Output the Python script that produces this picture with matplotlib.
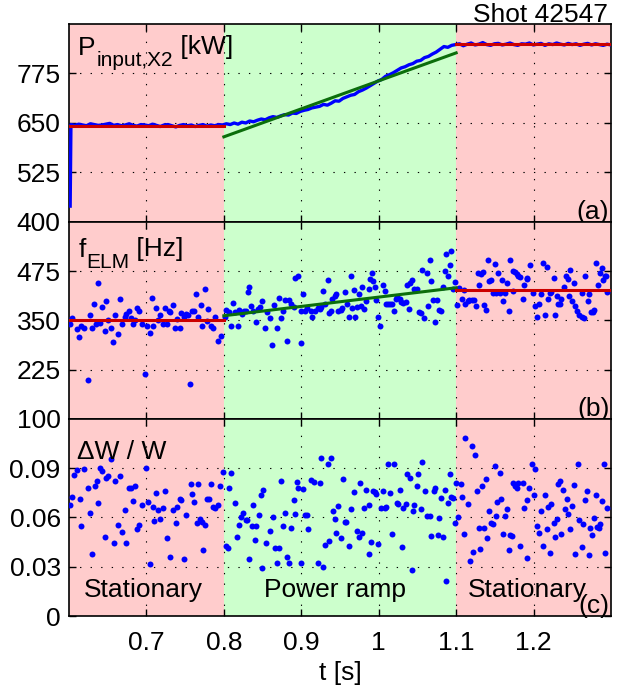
import numpy as np
import matplotlib
matplotlib.use('Agg')
import matplotlib.pyplot as plt

plt.rcParams['font.family'] = ['Liberation Sans', 'DejaVu Sans']
plt.rcParams['font.size'] = 19

# phases
phase_edges = [0.6, 0.8, 1.1, 1.3]
phase_names = ['Stationary', 'Power ramp', 'Stationary']
phase_label_t = [0.696, 0.944, 1.192]

# (a) input power: start transient, then sampled every ~5 ms up to 1.300 s
power_t = np.r_[0.6015, np.linspace(0.6025, 1.3, 140)]
power = [440, 646, 644, 647, 645, 643, 648, 646, 644, 645, 647, 649, 644, 646, 643, 645, 648, 644, 642, 646,
         645, 643, 647, 644, 641, 645, 646, 643, 640, 644, 646, 643, 645, 641, 644, 646, 642, 645, 643, 646,
         645, 648, 646, 650, 647, 652, 650, 655, 653, 657, 660, 658, 663, 666, 664, 668, 671, 670, 675, 674,
         679, 682, 684, 688, 690, 692, 697, 695, 700, 706, 705, 712, 716, 720, 722, 729, 733, 738, 744, 750,
         756, 760, 768, 772, 777, 783, 789, 792, 797, 800, 806, 808, 815, 818, 824, 829, 836, 843, 841, 846,
         848, 850, 845, 849, 852, 847, 849, 853, 848, 846, 850, 851, 847, 849, 852, 848, 846, 850, 849, 852,
         847, 849, 851, 846, 850, 848, 852, 849, 847, 851, 848, 850, 846, 849, 851, 847, 850, 848, 846, 849, 847]

# (b) ELM frequency
felm_t = [0.601, 0.604, 0.610, 0.613, 0.615, 0.619, 0.624, 0.627, 0.630, 0.632, 0.635, 0.637, 0.640, 0.643,
          0.646, 0.648, 0.651, 0.654, 0.657, 0.660, 0.663, 0.666, 0.669, 0.672, 0.674, 0.678, 0.680, 0.683,
          0.685, 0.688, 0.691, 0.694, 0.698, 0.701, 0.705, 0.707, 0.709, 0.713, 0.715, 0.718, 0.721, 0.724,
          0.727, 0.729, 0.731, 0.734, 0.737, 0.740, 0.743, 0.745, 0.748, 0.751, 0.754, 0.756, 0.759, 0.761,
          0.764, 0.767, 0.770, 0.772, 0.775, 0.778, 0.780, 0.783, 0.786, 0.789, 0.792, 0.796,
          0.801, 0.803, 0.806, 0.809, 0.812, 0.815, 0.818, 0.820, 0.823, 0.826, 0.829, 0.831, 0.832, 0.835,
          0.838, 0.841, 0.844, 0.847, 0.849, 0.853, 0.856, 0.859, 0.862, 0.865, 0.868, 0.871, 0.874, 0.876,
          0.879, 0.882, 0.884, 0.887, 0.890, 0.892, 0.896, 0.899, 0.900, 0.902, 0.905, 0.908, 0.912, 0.914,
          0.918, 0.921,
          0.924, 0.926, 0.928, 0.931, 0.934, 0.936, 0.938, 0.940, 0.943, 0.945, 0.948, 0.951, 0.953, 0.956,
          0.959, 0.962, 0.964, 0.966, 0.968, 0.970, 0.972, 0.975, 0.977, 0.979, 0.981, 0.984, 0.987, 0.989,
          0.991, 0.993, 0.995, 0.997, 0.999, 1.002, 1.006, 1.008, 1.010, 1.012, 1.014, 1.017, 1.020, 1.022,
          1.024, 1.027, 1.029, 1.032, 1.035, 1.037, 1.039, 1.041, 1.043, 1.045, 1.047, 1.050, 1.052, 1.054,
          1.056, 1.059, 1.062, 1.064, 1.066, 1.068, 1.070, 1.073, 1.075, 1.078, 1.080, 1.083, 1.085, 1.087,
          1.090, 1.092, 1.093, 1.096, 1.098,
          1.101, 1.104, 1.108, 1.110, 1.112, 1.115, 1.117, 1.120, 1.123, 1.126, 1.128, 1.129, 1.132, 1.135,
          1.136, 1.138, 1.141, 1.143, 1.145, 1.147, 1.150, 1.152, 1.154, 1.156, 1.159, 1.161, 1.163, 1.166,
          1.168, 1.170, 1.173, 1.174, 1.176, 1.178, 1.180, 1.183, 1.186, 1.188, 1.191, 1.192, 1.195, 1.199,
          1.202, 1.204, 1.207, 1.209, 1.212, 1.215, 1.217, 1.219, 1.221, 1.222, 1.226, 1.228, 1.230, 1.232,
          1.234, 1.236, 1.239, 1.242, 1.244, 1.246, 1.247, 1.250, 1.252, 1.254, 1.256, 1.259, 1.262, 1.263,
          1.265, 1.267, 1.270, 1.272, 1.274, 1.277, 1.278, 1.281, 1.283, 1.286, 1.289, 1.290, 1.292, 1.294, 1.295]
felm = [342, 357, 329, 309, 337, 331, 198, 364, 331, 391, 342, 446, 343, 384, 323, 399, 352, 331, 295, 364,
        316, 405, 342, 360, 367, 374, 357, 342, 352, 381, 373, 342, 213, 337, 318, 408, 337, 381, 352, 365,
        342, 381, 342, 375, 371, 390, 331, 353, 331, 369, 358, 367, 365, 188, 375, 374, 416, 358, 390, 337,
        429, 348, 380, 335, 331, 360, 299, 310,
        358, 377, 371, 335, 395, 371, 337, 377, 367, 374, 374, 422, 435, 386, 375, 346, 380, 384, 399, 331,
        371, 357, 287, 390, 331, 408, 357, 374, 401, 298, 401, 392, 384, 457, 462, 375, 293, 416, 375, 382,
        374, 360, 375, 382,
        380, 384, 426, 392, 453, 369, 375, 405, 411, 416, 374, 377, 382, 423, 391, 360, 462, 382, 428, 360,
        384, 416, 388, 436, 380, 399, 429, 456, 470, 450, 436, 401, 360, 337, 440, 426, 391, 392, 391, 392,
        374, 405, 409, 405, 397, 394, 397, 439, 380, 445, 453, 430, 428, 430, 371, 369, 479, 357, 470, 388,
        504, 449, 402, 346, 402, 377, 374, 436, 475, 519, 462, 490, 526, 430, 447,
        390, 433, 405, 428, 391, 399, 402, 402, 401, 388, 470, 441, 468, 473, 390, 377, 504, 450, 453, 419,
        494, 419, 470, 419, 452, 399, 419, 445, 375, 504, 426, 475, 473, 468, 464, 460, 405, 441, 456, 457,
        490, 420, 388, 360, 392, 416, 496, 365, 485, 405, 419, 422, 457, 365, 411, 392, 391, 405, 436, 462,
        456, 411, 479, 399, 446, 388, 375, 365, 419, 358, 357, 462, 399, 416, 371, 371, 377, 496, 441, 470,
        484, 453, 462, 464, 422]

# (c) relative ELM energy loss
dw_t = [0.601, 0.604, 0.607, 0.610, 0.614, 0.616, 0.619, 0.624, 0.627, 0.630, 0.633, 0.636, 0.637, 0.640,
        0.643, 0.646, 0.648, 0.651, 0.654, 0.658, 0.660, 0.663, 0.666, 0.669, 0.672, 0.674, 0.677, 0.680,
        0.683, 0.685, 0.688, 0.691, 0.694, 0.699, 0.702, 0.705, 0.708, 0.710, 0.713, 0.715, 0.718, 0.721,
        0.724, 0.727, 0.731, 0.734, 0.738, 0.740, 0.743, 0.745, 0.748, 0.751, 0.757, 0.759, 0.762, 0.765,
        0.767, 0.769, 0.772, 0.773, 0.775, 0.778, 0.781, 0.783, 0.786, 0.789, 0.793, 0.795,
        0.799, 0.803, 0.805, 0.806, 0.809, 0.814, 0.817, 0.819, 0.822, 0.825, 0.828, 0.830, 0.832, 0.836,
        0.838, 0.840, 0.842, 0.846, 0.848, 0.849, 0.851, 0.854, 0.860, 0.863, 0.866, 0.869, 0.871, 0.874,
        0.877, 0.879, 0.882, 0.884, 0.887, 0.890, 0.892, 0.894, 0.896, 0.899, 0.902, 0.905, 0.908, 0.909,
        0.913, 0.917, 0.921,
        0.924, 0.926, 0.928, 0.931, 0.934, 0.936, 0.938, 0.941, 0.944, 0.945, 0.948, 0.951, 0.954, 0.956,
        0.958, 0.962, 0.964, 0.968, 0.972, 0.974, 0.976, 0.979, 0.981, 0.984, 0.987, 0.988, 0.990, 0.993,
        0.995, 0.997, 0.999, 1.003, 1.005, 1.008, 1.010, 1.012, 1.015, 1.017, 1.020, 1.023, 1.025, 1.027,
        1.030, 1.032, 1.035, 1.037, 1.040, 1.043, 1.044, 1.046, 1.049, 1.051, 1.054, 1.056, 1.060, 1.062,
        1.066, 1.068, 1.071, 1.073, 1.076, 1.078, 1.081, 1.083, 1.085, 1.087, 1.089, 1.092, 1.093, 1.096,
        1.098,
        1.100, 1.103, 1.106, 1.108, 1.110, 1.112, 1.115, 1.118, 1.120, 1.122, 1.125, 1.127, 1.129, 1.131,
        1.133, 1.136, 1.138, 1.140, 1.143, 1.145, 1.147, 1.150, 1.152, 1.153, 1.156, 1.158, 1.161, 1.163,
        1.166, 1.168, 1.170, 1.172, 1.174, 1.176, 1.178, 1.180, 1.183, 1.186, 1.188, 1.191, 1.192, 1.194,
        1.198, 1.200, 1.202, 1.204, 1.207, 1.209, 1.212, 1.215, 1.217, 1.219, 1.221, 1.223, 1.226, 1.228,
        1.230, 1.232, 1.234, 1.236, 1.238, 1.241, 1.243, 1.245, 1.247, 1.250, 1.252, 1.254, 1.257, 1.259,
        1.262, 1.264, 1.266, 1.269, 1.271, 1.273, 1.275, 1.278, 1.280, 1.282, 1.284, 1.286, 1.288, 1.291,
        1.292, 1.295]
dw = [0.0675, 0.0725, 0.0857, 0.0891, 0.0715, 0.0549, 0.0897, 0.0782, 0.0630, 0.0376, 0.0792, 0.0820,
      0.0691, 0.0901, 0.0883, 0.0483, 0.0842, 0.0850, 0.0954, 0.0446, 0.0820, 0.0554, 0.0850, 0.0513,
      0.0644, 0.0446, 0.0782, 0.0782, 0.0699, 0.0790, 0.0527, 0.0554, 0.0679, 0.0903, 0.0695, 0.0315,
      0.0665, 0.0578, 0.0752, 0.0648, 0.0588, 0.0655, 0.0762, 0.0473, 0.0358, 0.0644, 0.0568, 0.0665,
      0.0715, 0.0709, 0.0345, 0.0618, 0.0802, 0.0745, 0.0695, 0.0568, 0.0802, 0.0588, 0.0574, 0.0402,
      0.0554, 0.0711, 0.0715, 0.0806, 0.0661, 0.0659, 0.0675, 0.0790,
      0.0877, 0.0428, 0.0416, 0.0782, 0.0871, 0.0689, 0.0483, 0.0554, 0.0604, 0.0628, 0.0584, 0.0584,
      0.0345, 0.0547, 0.0675, 0.0463, 0.0547, 0.0614, 0.0739, 0.0291, 0.0766, 0.0446, 0.0517, 0.0600,
      0.0416, 0.0325, 0.0412, 0.0822, 0.0547, 0.0628, 0.0358, 0.0325, 0.0539, 0.0705, 0.0624, 0.0814,
      0.0782, 0.0321, 0.0772, 0.0614, 0.0618, 0.0527, 0.0830, 0.0816, 0.0325,
      0.0812, 0.0964, 0.0301, 0.0432, 0.0923, 0.0459, 0.0964, 0.0640, 0.0588, 0.0507, 0.0669, 0.0473,
      0.0832, 0.0570, 0.0574, 0.0426, 0.0651, 0.0756, 0.0519, 0.0479, 0.0810, 0.0503, 0.0655, 0.0766,
      0.0380, 0.0679, 0.0453, 0.0760, 0.0756, 0.0741, 0.0438, 0.0655, 0.0762, 0.0655, 0.0665, 0.0927,
      0.0749, 0.0499, 0.0927, 0.0689, 0.0685, 0.0766, 0.0418, 0.0655, 0.0681, 0.0867, 0.0842, 0.0281,
      0.0640, 0.0675, 0.0792, 0.0863, 0.0651, 0.0937, 0.0762, 0.0608, 0.0608, 0.0489, 0.0762, 0.0782,
      0.0493, 0.0596, 0.0719, 0.0483, 0.0770, 0.0216, 0.0689, 0.0863, 0.0725, 0.0719, 0.0564,
      0.0810, 0.0600, 0.0802, 0.0725, 0.0497, 0.1083, 0.0685, 0.0337, 0.1034, 0.0392, 0.0978, 0.0762,
      0.0537, 0.0406, 0.0790, 0.0533, 0.0836, 0.0473, 0.0640, 0.0568, 0.0560, 0.0913, 0.0608, 0.0695,
      0.0871, 0.0715, 0.0499, 0.0610, 0.0651, 0.0402, 0.0493, 0.0489, 0.0812, 0.0790, 0.0782, 0.0810,
      0.0426, 0.0812, 0.0655, 0.0705, 0.0356, 0.0782, 0.0927, 0.0735, 0.0895, 0.0547, 0.0507, 0.0640,
      0.0428, 0.0735, 0.0529, 0.0661, 0.0382, 0.0685, 0.0568, 0.0483, 0.0588, 0.0806, 0.0822, 0.0497,
      0.0766, 0.0651, 0.0715, 0.0620, 0.0529, 0.0669, 0.0800, 0.0378, 0.0927, 0.0584, 0.0422, 0.0558,
      0.0709, 0.0762, 0.0372, 0.0533, 0.0493, 0.0594, 0.0735, 0.0543, 0.0533, 0.0558, 0.0701, 0.0923,
      0.0386, 0.0655]

# fitted lines per phase (start, end)
fit_t = [[0.6, 0.8], [0.8, 1.1], [1.1, 1.3]]
power_fit = [[642, 642], [615, 827], [849, 849]]
felm_fit = [[352, 352], [362, 433], [428, 428]]

xticks = [0.7, 0.8, 0.9, 1.0, 1.1, 1.2]
xticklabels = ['0.7', '0.8', '0.9', '1', '1.1', '1.2']
yticks_a = [400, 525, 650, 775]
yticks_b = [100, 225, 350, 475]
yticks_c = [0, 0.03, 0.06, 0.09]
yticklabels_c = ['0', '0.03', '0.06', '0.09']

phase_colors = ['#ffcccc', '#ccffcc', '#ffcccc']
fit_colors = ['#cc0000', '#0b6e0b', '#cc0000']


def style(ax, ylim, yticks):
    for i in range(3):
        ax.axvspan(phase_edges[i], phase_edges[i + 1], color=phase_colors[i], lw=0, zorder=0)
    ax.set_xlim(0.6, 1.3)
    ax.set_ylim(*ylim)
    ax.set_xticks(xticks)
    ax.set_yticks(yticks)
    ax.grid(True, color='k', lw=0.8, linestyle=(0, (1.2, 8.3)))
    ax.tick_params(direction='in', top=True, right=True, length=5, width=1)
    ax.tick_params(axis='y', pad=6)
    ax.tick_params(axis='x', pad=11)
    for s in ax.spines.values():
        s.set_linewidth(1.2)


def sub_label(ax, y, main, sub, unit):
    # main letter, lowered smaller subscript, then unit
    t1 = ax.text(0.017, y, main, transform=ax.transAxes, va='baseline')
    t2 = ax.annotate(sub, xy=(1, 0), xycoords=t1, xytext=(0.3, -4.4), textcoords='offset points',
                     fontsize=15, va='baseline')
    ax.annotate(' ' + unit, xy=(1, 0), xycoords=t2, xytext=(0, 11.6), textcoords='offset points',
                va='baseline')


fig = plt.figure(figsize=(6.17, 6.93), dpi=100)
L, W = 69 / 617, 542 / 617
ax1 = fig.add_axes([L, 0.6797, W, 0.2857])
ax2 = fig.add_axes([L, 0.3954, W, 0.2843])
ax3 = fig.add_axes([L, 0.1111, W, 0.2843])

# (a)
style(ax1, (400, 900), yticks_a)
ax1.plot(power_t, power, color='#0000ff', lw=2.4, zorder=3)
for i in range(3):
    ax1.plot(fit_t[i], power_fit[i], color=fit_colors[i], lw=2.2, zorder=4)
ax1.set_xticklabels([])
sub_label(ax1, 0.843, 'P', 'input,X2', '[kW]')
ax1.text(0.997, -0.01, '(a)', transform=ax1.transAxes, ha='right', va='bottom')

# (b)
style(ax2, (100, 600), yticks_b)
ax2.plot(felm_t, felm, 'o', color='#0000ff', ms=4.3, mew=0, zorder=3)
for i in range(3):
    ax2.plot(fit_t[i], felm_fit[i], color=fit_colors[i], lw=2.2, zorder=4)
ax2.set_xticklabels([])
sub_label(ax2, 0.822, 'f', 'ELM', '[Hz]')
ax2.text(0.997, -0.01, '(b)', transform=ax2.transAxes, ha='right', va='bottom')

# (c)
style(ax3, (0, 0.12), yticks_c)
ax3.plot(dw_t, dw, 'o', color='#0000ff', ms=4.3, mew=0, zorder=3)
ax3.set_yticklabels(yticklabels_c)
ax3.set_xticklabels(xticklabels)
ax3.text(0.015, 0.797, '\u0394W / W', transform=ax3.transAxes, va='baseline')
ax3.text(0.997, -0.01, '(c)', transform=ax3.transAxes, ha='right', va='bottom')
for name, tx in zip(phase_names, phase_label_t):
    ax3.text(tx, 0.0116, name, ha='center', va='baseline', zorder=5)
ax3.set_xlabel('t [s]', labelpad=4)

fig.text(608 / 617, 1 - 21.7 / 693, 'Shot 42547', ha='right', va='baseline')

fig.savefig('out.png', dpi=100)
